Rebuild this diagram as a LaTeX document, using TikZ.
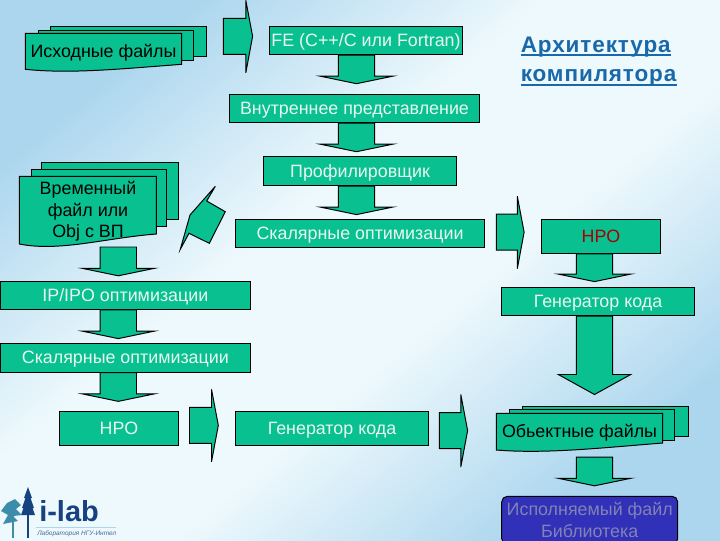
\documentclass[tikz,border=0pt]{standalone}
\usepackage{fontspec}
\setmainfont{Liberation Sans}
\usetikzlibrary{positioning, calc}
\definecolor{boxgreen}{RGB}{8,192,144}
\definecolor{boxtext}{RGB}{232,248,240}
\definecolor{titleblue}{RGB}{24,104,170}
\definecolor{skyblue}{RGB}{172,214,238}
\definecolor{paleblue}{RGB}{238,249,253}
\definecolor{execblue}{RGB}{48,48,184}
\definecolor{exectext}{RGB}{130,130,180}
\definecolor{logoblue}{RGB}{22,66,130}
\definecolor{logoteal}{RGB}{60,140,170}
\newcommand{\px}{0.025cm}
\pgfdeclareverticalshading{slideback}{100bp}{color(0bp)=(skyblue); color(25bp)=(skyblue); color(43bp)=(paleblue); color(57bp)=(paleblue); color(75bp)=(skyblue); color(100bp)=(skyblue)}
\tikzset{
    procbox/.style={draw=black, fill=boxgreen, text=boxtext, inner sep=0pt, line width=0.7pt, text height=9pt, text depth=0.3pt, font=\fontsize{12.7}{15}\selectfont},
    sheet/.style={draw=black, fill=boxgreen, line width=0.7pt},
    filetext/.style={text=black, inner sep=0pt, align=center, font=\fontsize{12.7}{15.3}\selectfont},
    blockshape/.style={draw=black, fill=boxgreen, line width=0.7pt, line join=miter},
    titletext/.style={text=titleblue, inner sep=0pt, anchor=base west, font=\fontsize{16}{20.6}\selectfont\bfseries\addfontfeatures{LetterSpace=4}},
    titleline/.style={draw=titleblue, line width=0.9pt}
}
% start point, stem length, tip length
\newcommand{\blockdown}[3]{
    \draw[blockshape] #1 ++(-18.2,0) -- ++(0,#2) -- ++(-18,0) -- ++(36.2,#3) -- ++(36.2,-#3) -- ++(-18,0) -- ++(0,-#2) -- cycle;
}
% start point, stem length
\newcommand{\blockright}[2]{
    \draw[blockshape] #1 ++(0,-18) -- ++(#2,0) -- ++(0,-18) -- ++(6.8,36) -- ++(-6.8,36.5) -- ++(0,-18.5) -- ++(-#2,0) -- cycle;
}
\begin{document}
\begin{tikzpicture}[x=\px, y=-\px]
    \useasboundingbox (0,0) rectangle (720,540);

    % Background
    \shade[shading=slideback, shading angle=40] (0,0) rectangle (720,540);

    % Top row
    \draw[sheet] (50.3,26.3) rectangle (206,56.7);
    \draw[sheet] (38.3,30.7) rectangle (193.7,60.7);
    \draw[sheet] (25.3,33.3) -- (181.7,33.3) -- (181.7,64.3) .. controls (120,69) and (70,74) .. (25.3,69.3) -- cycle;
    \node[filetext] (src) at (103.5,52.5) {Исходные файлы};
    \blockright{(223.3,36.3)}{22.5}
    \node[procbox, minimum width=193.4*\px, minimum height=28.4*\px] (fe) at (366,40.5) {FE (C++/C или Fortran)};
    \node[titletext] (titlea) at (520.5,52.7) {Архитектура};
    \node[titletext] (titleb) at (520.5,81.7) {компилятора};
    \draw[titleline] ($(titlea.base west)+(0,2.2)$) -- ($(titlea.base east)+(0,2.2)$);
    \draw[titleline] ($(titleb.base west)+(0,3.2)$) -- ($(titleb.base east)+(0,3.2)$);

    % Middle column
    \node[procbox, minimum width=250.4*\px, minimum height=28.4*\px] (ir) at (354.5,108.5) {Внутреннее представление};
    \node[procbox, minimum width=193.4*\px, minimum height=29.2*\px] (prof) at (360,171) {Профилировщик};
    \node[procbox, minimum width=249.4*\px, minimum height=27.7*\px] (scal) at (360,233.2) {Скалярные оптимизации};
    \blockdown{(356.5,0 |- fe.south)}{21}{7.5}
    \blockdown{(356.5,0 |- ir.south)}{21}{7.5}
    \blockdown{(356.5,0 |- prof.south)}{21}{7.5}

    % Temporary file
    \draw[sheet] (41.3,162.7) rectangle (178.3,219.3);
    \draw[sheet] (31.3,169.7) rectangle (166.3,226.7);
    \draw[sheet] (19.3,176.3) -- (156.3,176.3) -- (156.3,234) .. controls (105,238) and (60,252) .. (19.3,244) -- cycle;
    \node[filetext] (tmp) at (88,211.5) {Временный\\файл или\\Obj с ВП};
    \draw[blockshape] (225.3,211.7) -- (206.7,201) -- (215.3,186.3) -- (190,215) -- (180.3,249.3) -- (189,233.3) -- (209.3,243.3) -- cycle;

    % Left column
    \node[procbox, anchor=west, minimum width=249.7*\px, minimum height=28*\px] (ipo) at (0,295.3) {IP/IPO оптимизации};
    \node[procbox, anchor=west, minimum width=249.7*\px, minimum height=28.7*\px] (scalb) at (0,357.7) {Скалярные оптимизации};
    \node[procbox, minimum width=119.4*\px, minimum height=34*\px] (hpob) at (119,428.3) {HPO};
    \node[procbox, minimum width=193.4*\px, minimum height=34*\px] (genb) at (332,428.3) {Генератор кода};
    \blockdown{(118.3,247)}{21.3}{7.5}
    \blockdown{(118.3,0 |- ipo.south)}{21.3}{7.5}
    \blockdown{(118.3,0 |- scalb.south)}{21.3}{7.5}
    \blockright{(189.5,425.3)}{22}
    \blockright{(439.3,430.5)}{21.5}

    % Right column
    \blockright{(496.3,232.2)}{21}
    \node[procbox, text=red!65!black, minimum width=119.4*\px, minimum height=34*\px] (hpo) at (601,236.3) {HPO};
    \node[procbox, minimum width=193.4*\px, minimum height=28.4*\px] (gen) at (598,301.5) {Генератор кода};
    \blockdown{(594.5,0 |- hpo.south)}{20.3}{7.5}
    \blockdown{(594.5,0 |- gen.south)}{58.3}{20}

    % Object files
    \draw[sheet] (522.3,406) rectangle (688.3,436.3);
    \draw[sheet] (509.3,409.3) rectangle (674.7,440.7);
    \draw[sheet] (496.3,413.3) -- (662.7,413.3) -- (662.7,443) .. controls (600,448) and (545,454) .. (496.3,450) -- cycle;
    \node[filetext] (obj) at (579.5,433) {Обьектные файлы};
    \blockdown{(594.5,457)}{21.3}{7.5}

    % Result
    \node[draw=black, fill=execblue, text=exectext, rounded corners=4pt, inner sep=0pt, line width=0.7pt, align=center, minimum width=176*\px, minimum height=48*\px, font=\fontsize{12.7}{15.5}\selectfont] (exec) at (589.7,520.3) {Исполняемый файл\\Библиотека};

    % Logo
    \fill[logoblue] (28,487) -- (32,498) -- (30.5,498) -- (34,508) -- (32.5,508) -- (35,515) -- (21,515) -- (23.5,508) -- (22,508) -- (25.5,498) -- (24,498) -- cycle;
    \fill[logoblue] (26.8,512) rectangle (29,538);
    \fill[logoteal] (1,511) -- (7,503) -- (15,499) -- (21,505) -- (16,509) -- (22,515) -- (13,516) -- (18,521) -- (3,524) -- (8,515) -- cycle;
    \fill[logoteal] (11.5,515) rectangle (13.5,538);
    \node[text=logoblue, inner sep=0pt, anchor=base west, font=\fontsize{20.6}{21}\selectfont\bfseries] (logo) at (39,521) {i-lab};
    \draw[skyblue] (36,527.5) -- (116,527.5);
    \node[text=logoblue!80, inner sep=0pt, anchor=west, font=\fontsize{4.6}{5}\selectfont\itshape] (lab) at (37,534) {Лаборатория НГУ-Интел};
\end{tikzpicture}
\end{document}
